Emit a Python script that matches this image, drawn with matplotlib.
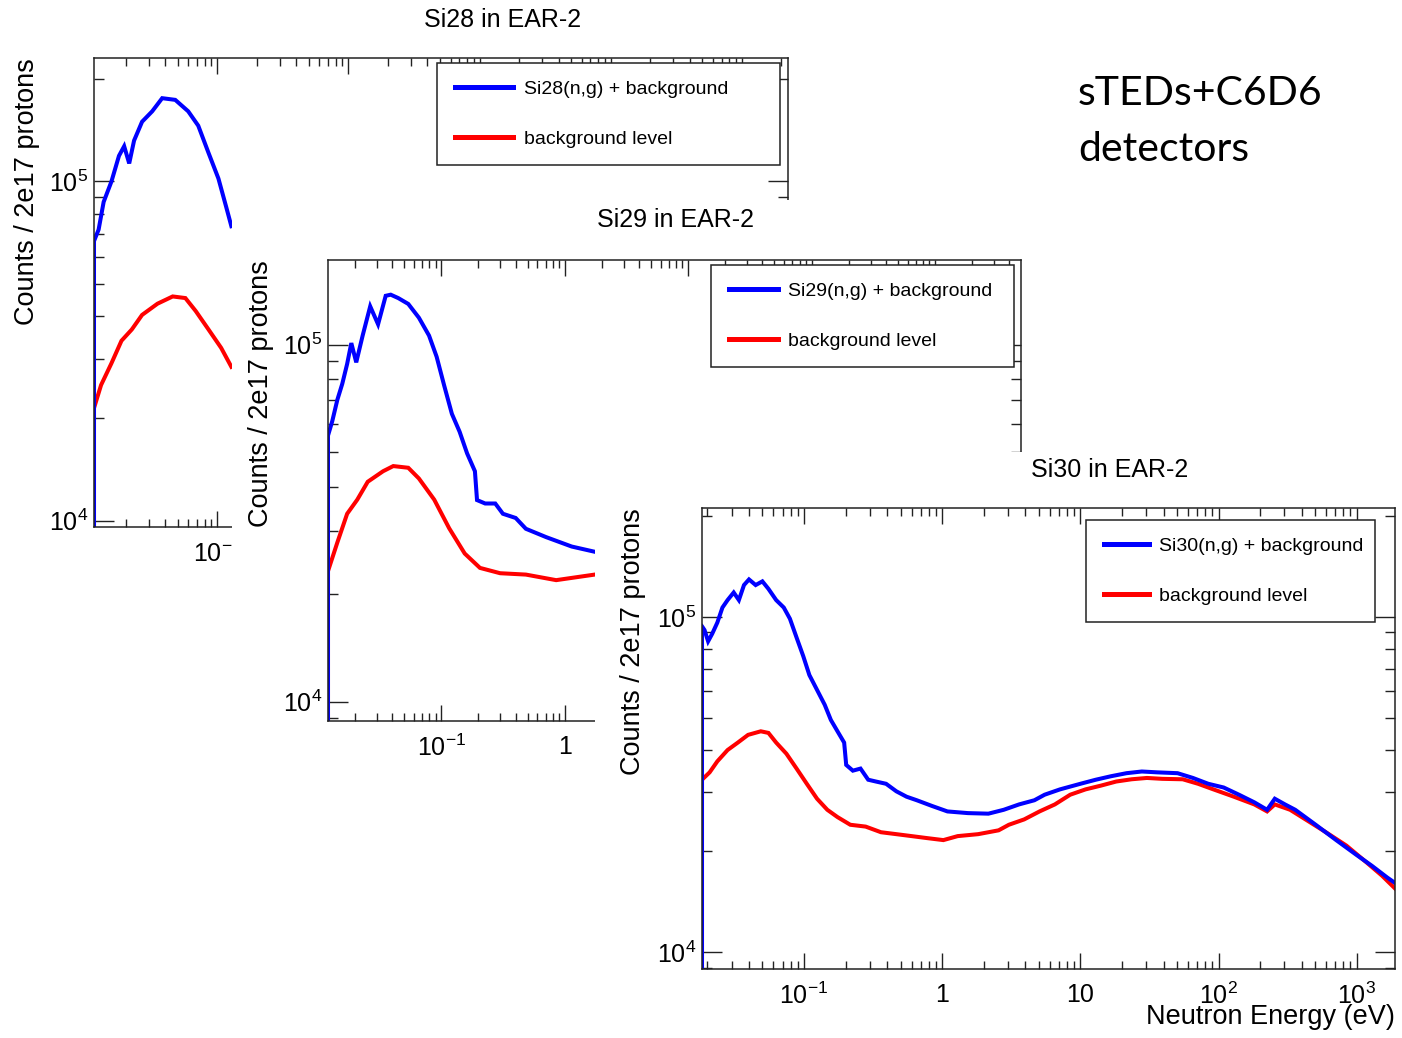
import numpy as np
import matplotlib
matplotlib.use("Agg")
import matplotlib.pyplot as plt
from matplotlib.ticker import LogLocator, FuncFormatter, NullFormatter
from matplotlib.lines import Line2D

plt.rcParams["font.family"] = ["Liberation Sans", "DejaVu Sans"]
plt.rcParams["mathtext.fontset"] = "custom"
plt.rcParams["mathtext.rm"] = "Liberation Sans"
plt.rcParams["mathtext.it"] = "Liberation Sans:italic"
plt.rcParams["mathtext.bf"] = "Liberation Sans:bold"

W, H = 1402, 1038

# ---- Si28 in EAR-2 (neutron energy in eV, counts / 2e17 protons) ----
si28_e_sig = [0.0115, 0.01245, 0.0136, 0.0156, 0.0178, 0.0195, 0.0213, 0.0232, 0.0267,
              0.0319, 0.038, 0.0478, 0.060, 0.0716, 0.0853, 0.102, 0.117, 0.128]
si28_c_sig = [6.68e4, 7.21e4, 8.7e4, 1.0e5, 1.19e5, 1.27e5, 1.13e5, 1.32e5, 1.50e5,
              1.61e5, 1.76e5, 1.74e5, 1.61e5, 1.46e5, 1.22e5, 1.02e5, 8.4e4, 7.38e4]
si28_e_bkg = [0.0115, 0.0130, 0.0156, 0.0186, 0.0223, 0.0267, 0.035, 0.0457, 0.0571,
              0.0684, 0.0857, 0.107, 0.128]
si28_c_bkg = [2.15e4, 2.51e4, 2.91e4, 3.39e4, 3.66e4, 4.04e4, 4.36e4, 4.58e4, 4.53e4,
              4.15e4, 3.66e4, 3.23e4, 2.84e4]

# ---- Si29 in EAR-2 ----
si29_e_sig = [0.0121, 0.0131, 0.0144, 0.0158, 0.0173, 0.0187, 0.0205, 0.0231, 0.0266,
              0.0308, 0.0355, 0.039, 0.0449, 0.0541, 0.0659, 0.0797, 0.0918, 0.1057,
              0.122, 0.141, 0.162, 0.1875, 0.195, 0.227, 0.274, 0.316, 0.401, 0.485,
              0.708, 1.14, 1.75]
si29_c_sig = [5.56e4, 6.10e4, 7.0e4, 7.77e4, 8.83e4, 1.01e5, 8.92e4, 1.06e5, 1.28e5,
              1.14e5, 1.37e5, 1.38e5, 1.35e5, 1.30e5, 1.19e5, 1.06e5, 9.25e4, 7.68e4,
              6.40e4, 5.70e4, 4.96e4, 4.42e4, 3.67e4, 3.59e4, 3.59e4, 3.36e4, 3.27e4,
              3.05e4, 2.89e4, 2.72e4, 2.63e4]
si29_e_bkg = [0.0121, 0.0144, 0.0173, 0.0209, 0.0254, 0.0338, 0.0409, 0.0541, 0.0659,
              0.0878, 0.116, 0.155, 0.206, 0.30, 0.485, 0.853, 1.75]
si29_c_bkg = [2.32e4, 2.79e4, 3.36e4, 3.68e4, 4.13e4, 4.42e4, 4.57e4, 4.52e4, 4.22e4,
              3.68e4, 3.06e4, 2.60e4, 2.37e4, 2.29e4, 2.27e4, 2.19e4, 2.27e4]

# ---- Si30 in EAR-2 ----
si30_e_sig = [0.01828, 0.01907, 0.02024, 0.02167, 0.0236, 0.0257, 0.0280, 0.0310, 0.0338,
              0.0368, 0.0400, 0.0447, 0.0500, 0.0553, 0.0629, 0.0714, 0.0791, 0.0884,
              0.0988, 0.1094, 0.1243, 0.1413, 0.1565, 0.1748, 0.1953, 0.2021, 0.2258,
              0.2565, 0.2915, 0.3313, 0.3928, 0.4659, 0.5524, 0.6552, 0.8459, 1.092,
              1.536, 2.160, 2.790, 3.602, 4.650, 5.513, 7.121, 10.01, 12.93, 16.70,
              21.57, 27.85, 35.96, 50.55, 65.28, 84.31, 108.9, 140.6, 181.5, 224.6,
              255.3, 302.7, 358.9, 504.7, 709.9, 998, 1289, 1664, 1891]
si30_c_sig = [9.38e4, 9.14e4, 8.46e4, 8.91e4, 9.62e4, 1.067e5, 1.123e5, 1.183e5, 1.123e5,
              1.245e5, 1.294e5, 1.245e5, 1.277e5, 1.213e5, 1.123e5, 1.067e5, 9.88e4,
              8.68e4, 7.64e4, 6.71e4, 6.06e4, 5.47e4, 4.93e4, 4.56e4, 4.22e4, 3.62e4,
              3.48e4, 3.53e4, 3.27e4, 3.23e4, 3.18e4, 3.02e4, 2.91e4, 2.84e4, 2.73e4,
              2.63e4, 2.60e4, 2.59e4, 2.66e4, 2.76e4, 2.84e4, 2.95e4, 3.06e4, 3.18e4,
              3.27e4, 3.35e4, 3.42e4, 3.46e4, 3.44e4, 3.42e4, 3.31e4, 3.18e4, 3.10e4,
              2.95e4, 2.80e4, 2.66e4, 2.87e4, 2.76e4, 2.66e4, 2.40e4, 2.16e4, 1.95e4,
              1.81e4, 1.67e4, 1.61e4]
si30_e_bkg = [0.01828, 0.02076, 0.0236, 0.0280, 0.0332, 0.0394, 0.0487, 0.0553, 0.0629,
              0.0746, 0.0884, 0.1048, 0.1243, 0.1475, 0.1748, 0.2163, 0.2794, 0.3607,
              0.4659, 0.6016, 0.7769, 1.020, 1.295, 1.822, 2.561, 3.038, 3.923, 5.065,
              6.541, 8.446, 10.90, 14.08, 18.19, 23.49, 30.32, 39.16, 55.06, 71.10,
              91.82, 129.1, 181.5, 224.6, 255.3, 329.6, 425.6, 598.6, 841.8, 1183,
              1528, 1891]
si30_c_bkg = [3.27e4, 3.44e4, 3.71e4, 4.01e4, 4.22e4, 4.45e4, 4.56e4, 4.51e4, 4.22e4,
              3.91e4, 3.53e4, 3.18e4, 2.87e4, 2.66e4, 2.53e4, 2.40e4, 2.37e4, 2.28e4,
              2.25e4, 2.22e4, 2.19e4, 2.16e4, 2.22e4, 2.25e4, 2.31e4, 2.40e4, 2.49e4,
              2.63e4, 2.76e4, 2.95e4, 3.06e4, 3.14e4, 3.23e4, 3.28e4, 3.31e4, 3.29e4,
              3.28e4, 3.18e4, 3.06e4, 2.91e4, 2.76e4, 2.63e4, 2.76e4, 2.66e4, 2.49e4,
              2.28e4, 2.08e4, 1.85e4, 1.69e4, 1.55e4]

BLUE = "#0000ff"
RED = "#ff0000"
FRAME = "#222222"


def px_axes(fig, x0, y0, x1, y1, z):
    """axes placed with pixel corners (top-left origin like the picture)"""
    ax = fig.add_axes([x0 / W, 1 - y1 / H, (x1 - x0) / W, (y1 - y0) / H])
    ax.set_zorder(z)
    return ax


def cover(fig, x0, y0, x1, y1, z):
    # white sheet of the pasted plot hiding what lies below
    ax = px_axes(fig, x0, y0, x1, y1, z)
    ax.set_facecolor("white")
    ax.set_xticks([])
    ax.set_yticks([])
    for s in ax.spines.values():
        s.set_visible(False)
    return ax


def e_label(v, pos):
    n = int(round(np.log10(v)))
    if n == 0:
        return "1"
    if n == 1:
        return "10"
    return r"$10^{%d}$" % n


def draw_panel(fig, box, xlog, ylog, z, e_sig, c_sig, e_bkg, c_bkg, name,
               title_xy, legend_box, hlen, hpad, ylab_x, xlabel=False):
    ax = px_axes(fig, *box, z)
    ax.set_xscale("log")
    ax.set_yscale("log")
    ax.set_xlim(10 ** xlog[0], 10 ** xlog[1])
    ax.set_ylim(10 ** ylog[0], 10 ** ylog[1])
    y0 = ax.get_ylim()[0]

    ax.vlines(e_bkg[0], y0, c_bkg[0], color=RED, lw=2.9)
    ax.plot(e_bkg, c_bkg, color=RED, lw=2.9, solid_joinstyle="miter")
    ax.vlines(e_sig[0], y0, c_sig[0], color=BLUE, lw=2.9)
    ax.plot(e_sig, c_sig, color=BLUE, lw=2.9, solid_joinstyle="miter")

    ax.xaxis.set_major_locator(LogLocator(base=10, numticks=30))
    ax.xaxis.set_minor_locator(LogLocator(base=10, subs=np.arange(2, 10), numticks=30))
    ax.xaxis.set_major_formatter(FuncFormatter(e_label))
    ax.xaxis.set_minor_formatter(NullFormatter())
    ax.yaxis.set_major_locator(LogLocator(base=10, numticks=30))
    ax.yaxis.set_minor_locator(LogLocator(base=10, subs=np.arange(2, 10), numticks=30))
    ax.yaxis.set_major_formatter(FuncFormatter(lambda v, p: r"$10^{%d}$" % round(np.log10(v))))
    ax.yaxis.set_minor_formatter(NullFormatter())

    ax.tick_params(which="both", direction="in", top=True, right=True,
                   colors=FRAME, labelcolor="black", width=1.0)
    ax.tick_params(axis="x", which="major", length=11.5, pad=10, labelsize=18)
    ax.tick_params(axis="x", which="minor", length=5.8)
    ax.tick_params(axis="y", which="major", length=14.4, pad=4, labelsize=18)
    ax.tick_params(axis="y", which="minor", length=7.2)
    for s in ax.spines.values():
        s.set_color(FRAME)
        s.set_linewidth(1.1)

    ax.set_ylabel("Counts / 2e17 protons", fontsize=19.5, loc="top")
    ax.yaxis.set_label_coords(ylab_x, 1.0)
    if xlabel:
        ax.set_xlabel("Neutron Energy (eV)", fontsize=19.5, loc="right")
        ax.xaxis.set_label_coords(1.0, -0.076)

    ax.text(title_xy[0], title_xy[1], name + " in EAR-2", transform=ax.transAxes,
            ha="center", va="center", fontsize=18)

    handles = [Line2D([], [], color=BLUE, lw=3.6), Line2D([], [], color=RED, lw=3.6)]
    lx0, ly0, lx1, ly1 = legend_box
    leg = ax.legend(handles, [name + "(n,g) + background", "background level"],
                    loc="upper left", mode="expand",
                    bbox_to_anchor=(lx0 / W, 1 - ly1 / H, (lx1 - lx0) / W, (ly1 - ly0) / H),
                    bbox_transform=fig.transFigure, borderaxespad=0,
                    fontsize=14, handlelength=hlen, handletextpad=hpad,
                    labelspacing=1.65, borderpad=0.9, fancybox=False,
                    framealpha=1, edgecolor=FRAME)
    leg.get_frame().set_linewidth(1.1)
    return ax


fig = plt.figure(figsize=(W / 100, H / 100), dpi=100)

draw_panel(fig, (94, 58, 788, 527), (-1.94, 3.351), (3.981, 5.364), 1,
           si28_e_sig, si28_c_sig, si28_e_bkg, si28_c_bkg, "Si28",
           (0.589, 1.081), (437, 63, 780, 163), 3.0, 0.6, -0.078)

cover(fig, 232, 200, 1035, 1038, 2)
draw_panel(fig, (328, 260, 1021, 721), (-1.917, 3.696), (3.946, 5.237), 3,
           si29_e_sig, si29_c_sig, si29_e_bkg, si29_c_bkg, "Si29",
           (0.501, 1.087), (711, 265, 1014, 368), 2.55, 0.5, -0.078)

cover(fig, 595, 452, 1402, 1038, 4)
draw_panel(fig, (702, 508, 1395, 969), (-1.738, 3.277), (3.95, 5.325), 5,
           si30_e_sig, si30_c_sig, si30_e_bkg, si30_c_bkg, "Si30",
           (0.588, 1.082), (1086, 520, 1375, 622), 2.35, 0.5, -0.081, xlabel=True)

fig.text(1078 / W, 1 - 75 / H, "sTEDs+C6D6\ndetectors", fontsize=29.5,
         family=["Lato", "DejaVu Sans"], va="top", ha="left", linespacing=1.62)

fig.savefig("out.png", dpi=100, facecolor="white")
